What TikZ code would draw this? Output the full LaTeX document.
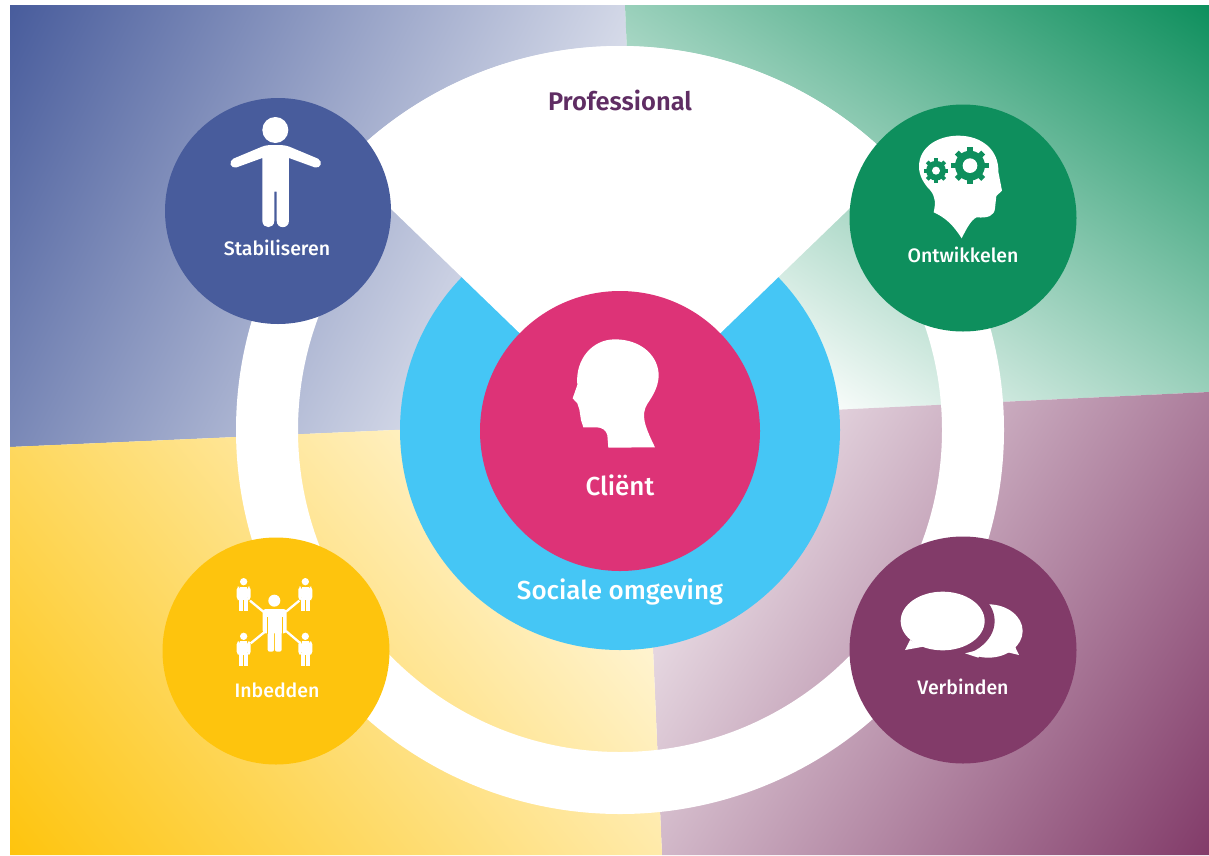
\documentclass[tikz,border=0pt]{standalone}
\usepackage{fontspec}
\setmainfont{Fira Sans}[UprightFont=* Medium,BoldFont=* SemiBold]
\definecolor{cblue}{HTML}{485C9C}
\definecolor{cgreen}{HTML}{0E8F5D}
\definecolor{cyellow}{HTML}{FEC40D}
\definecolor{cpurple}{HTML}{823B69}
\definecolor{csky}{HTML}{45C6F5}
\definecolor{cpink}{HTML}{DD3377}
\definecolor{cprof}{HTML}{5F2D63}
\newcommand{\quadrantfill}[5]{%
  \begin{scope}
    \clip #1;
    \shade[transform canvas={shift={(#2)},rotate=#3},left color=#5,right color=white] (0,-1600) rectangle (#4,1600);
  \end{scope}}
\newcommand{\minifig}[2]{%
  \begin{scope}[shift={(#1,#2)}]
    \fill[white] (0,0) circle (11);
    \fill[white,rounded corners=3pt] (-21,15) rectangle (-10,55);
    \fill[white,rounded corners=3pt] (10,15) rectangle (21,55);
    \fill[white] (-10,15) rectangle (10,55);
    \fill[white] (-13,50) rectangle (-1,88);
    \fill[white] (1,50) rectangle (13,88);
  \end{scope}}
\newcommand{\gearshape}[4]{%
  \foreach \a in {0,45,...,315}{
    \draw[cgreen,line width=#4,shift={(#1,#2)}] (\a:0) -- (\a:#3);
  }
  \fill[cgreen] (#1,#2) circle ({#3*0.8});
}
\tikzset{
  disc/.style={circle,draw=none,inner sep=0pt,minimum size=#1},
  steplabel/.style={text=white,font=\fontsize{19.5}{22}\selectfont,inner sep=0pt},
  biglabel/.style={text=white,font=\fontsize{26}{30}\selectfont,inner sep=0pt},
}
\begin{document}
\begin{tikzpicture}[x=1pt,y=-1pt]
\useasboundingbox (0,0) rectangle (1209,855);
\fill[white] (0,0) rectangle (1209,855);
% quadrants
\quadrantfill{(10,5)--(625,5)--(643,419)--(10,447)--cycle}{10,5}{-27}{730}{cblue}
\quadrantfill{(625,5)--(1209,5)--(1209,392)--(643,419)--cycle}{1209,5}{236.5}{560}{cgreen}
\quadrantfill{(643,419)--(1209,392)--(1209,855)--(662,855)--cycle}{1209,855}{147.6}{730}{cpurple}
\quadrantfill{(10,447)--(643,419)--(662,855)--(10,855)--cycle}{10,855}{39.4}{780}{cyellow}
% ring
\coordinate (c) at (620,430);
\fill[white,even odd rule] (c) circle (384) (c) circle (322);
% central discs and sector
\node[disc=440pt,fill=csky] (social) at (620,430) {};
\fill[white] (c) -- (343.8,163.3) arc[start angle=224,end angle=316,radius=384] -- cycle;
\node[disc=280pt,fill=cpink] (client) at (620,431) {};
\node[disc=226pt,fill=cblue] (stab) at (278,211) {};
\node[disc=227pt,fill=cgreen] (ontw) at (963,218) {};
\node[disc=227pt,fill=cyellow] (inb) at (276,651) {};
\node[disc=227pt,fill=cpurple] (verb) at (963,650) {};
% labels
\node[text=cprof,font=\bfseries\fontsize{25.5}{30}\selectfont,inner sep=0pt] (lprof) at (620,100) {Professional};
\node[steplabel] (lstab) at (277,248) {Stabiliseren};
\node[steplabel] (lontw) at (963,255) {Ontwikkelen};
\node[steplabel] (linb) at (277,690) {Inbedden};
\node[steplabel] (lverb) at (963,687) {Verbinden};
\node[biglabel] (lclient) at (620,485) {Cliënt};
\node[biglabel] (lsocial) at (620,592) {Sociale omgeving};
% person icon
\begin{scope}[shift={(160,90)},x=0.3333pt,y=-0.3333pt]
  \fill[white] (346,120) circle (39);
  \fill[white] (346,165) .. controls (360,165) and (375,165) .. (388,170) -- (474,206)
    .. controls (490,214) and (482,238) .. (464,232) -- (387,204) -- (387,392)
    .. controls (387,418) and (350,418) .. (350,392) -- (350,305) -- (343,305) -- (343,392)
    .. controls (343,418) and (307,418) .. (307,392) -- (307,204) -- (230,232)
    .. controls (212,238) and (204,214) .. (220,206) -- (306,170)
    .. controls (318,165) and (332,165) .. (346,165) -- cycle;
\end{scope}
% thinking head
\begin{scope}[shift={(845,100)},x=0.3333pt,y=-0.3333pt]
  \fill[white] (350,415) .. controls (325,375) and (300,352) .. (266,337)
    .. controls (272,310) and (272,290) .. (255,270)
    .. controls (235,250) and (222,225) .. (222,200)
    .. controls (222,140) and (280,107) .. (340,107)
    .. controls (410,107) and (462,150) .. (460,215)
    -- (471,272) -- (454,288) -- (450,325)
    .. controls (448,347) and (430,355) .. (395,352)
    .. controls (378,360) and (365,385) .. (350,415) -- cycle;
  \gearshape{375}{197}{56}{5.5pt}
  \fill[white] (375,197) circle (22);
  \gearshape{273}{212}{37}{3.8pt}
  \fill[white] (273,212) circle (12);
\end{scope}
% network icon
\begin{scope}[shift={(160,535)},x=0.3333pt,y=-0.3333pt]
  \draw[white,line width=2.3pt] (270,197) -- (310,230);
  \draw[white,line width=2.3pt] (418,197) -- (378,230);
  \draw[white,line width=2.3pt] (272,325) -- (315,290);
  \draw[white,line width=2.3pt] (418,322) -- (378,288);
  \minifig{251}{140}
  \minifig{436}{140}
  \minifig{251}{304}
  \minifig{436}{304}
  \fill[white] (343,197) circle (18);
  \fill[white,rounded corners=3pt] (308,222) rectangle (380,295);
  \fill[white,rounded corners=2pt] (323,280) rectangle (342,350);
  \fill[white,rounded corners=2pt] (345,280) rectangle (365,350);
  \fill[cyellow] (320,245) rectangle (323,296);
  \fill[cyellow] (365,245) rectangle (368,296);
\end{scope}
% speech bubbles
\begin{scope}[shift={(845,535)},x=0.3333pt,y=-0.3333pt]
  \fill[white] (430,288) ellipse [x radius=103,y radius=80];
  \fill[white] (480,350) -- (510,335) -- (522,360) -- cycle;
  \fill[cpurple] (293,258) ellipse [x radius=156,y radius=113];
  \fill[white] (360,355) -- (420,340) -- (400,368) -- cycle;
  \fill[white] (293,258) ellipse [x radius=126,y radius=88];
  \fill[white] (195,315) -- (235,335) -- (180,345) -- cycle;
\end{scope}
% client head
\begin{scope}[shift={(500,320)},x=0.3333pt,y=-0.3333pt]
  \fill[white] (325,383) -- (322,345) .. controls (318,330) and (305,322) .. (290,322)
    -- (250,322) -- (243,300) -- (238,268) -- (232,250) -- (218,235) -- (232,195)
    .. controls (225,120) and (275,58) .. (345,58)
    .. controls (425,58) and (478,110) .. (476,170)
    .. controls (474,205) and (455,232) .. (442,252)
    .. controls (432,268) and (430,285) .. (434,305)
    .. controls (440,330) and (452,355) .. (465,382) -- cycle;
\end{scope}
\end{tikzpicture}
\end{document}
